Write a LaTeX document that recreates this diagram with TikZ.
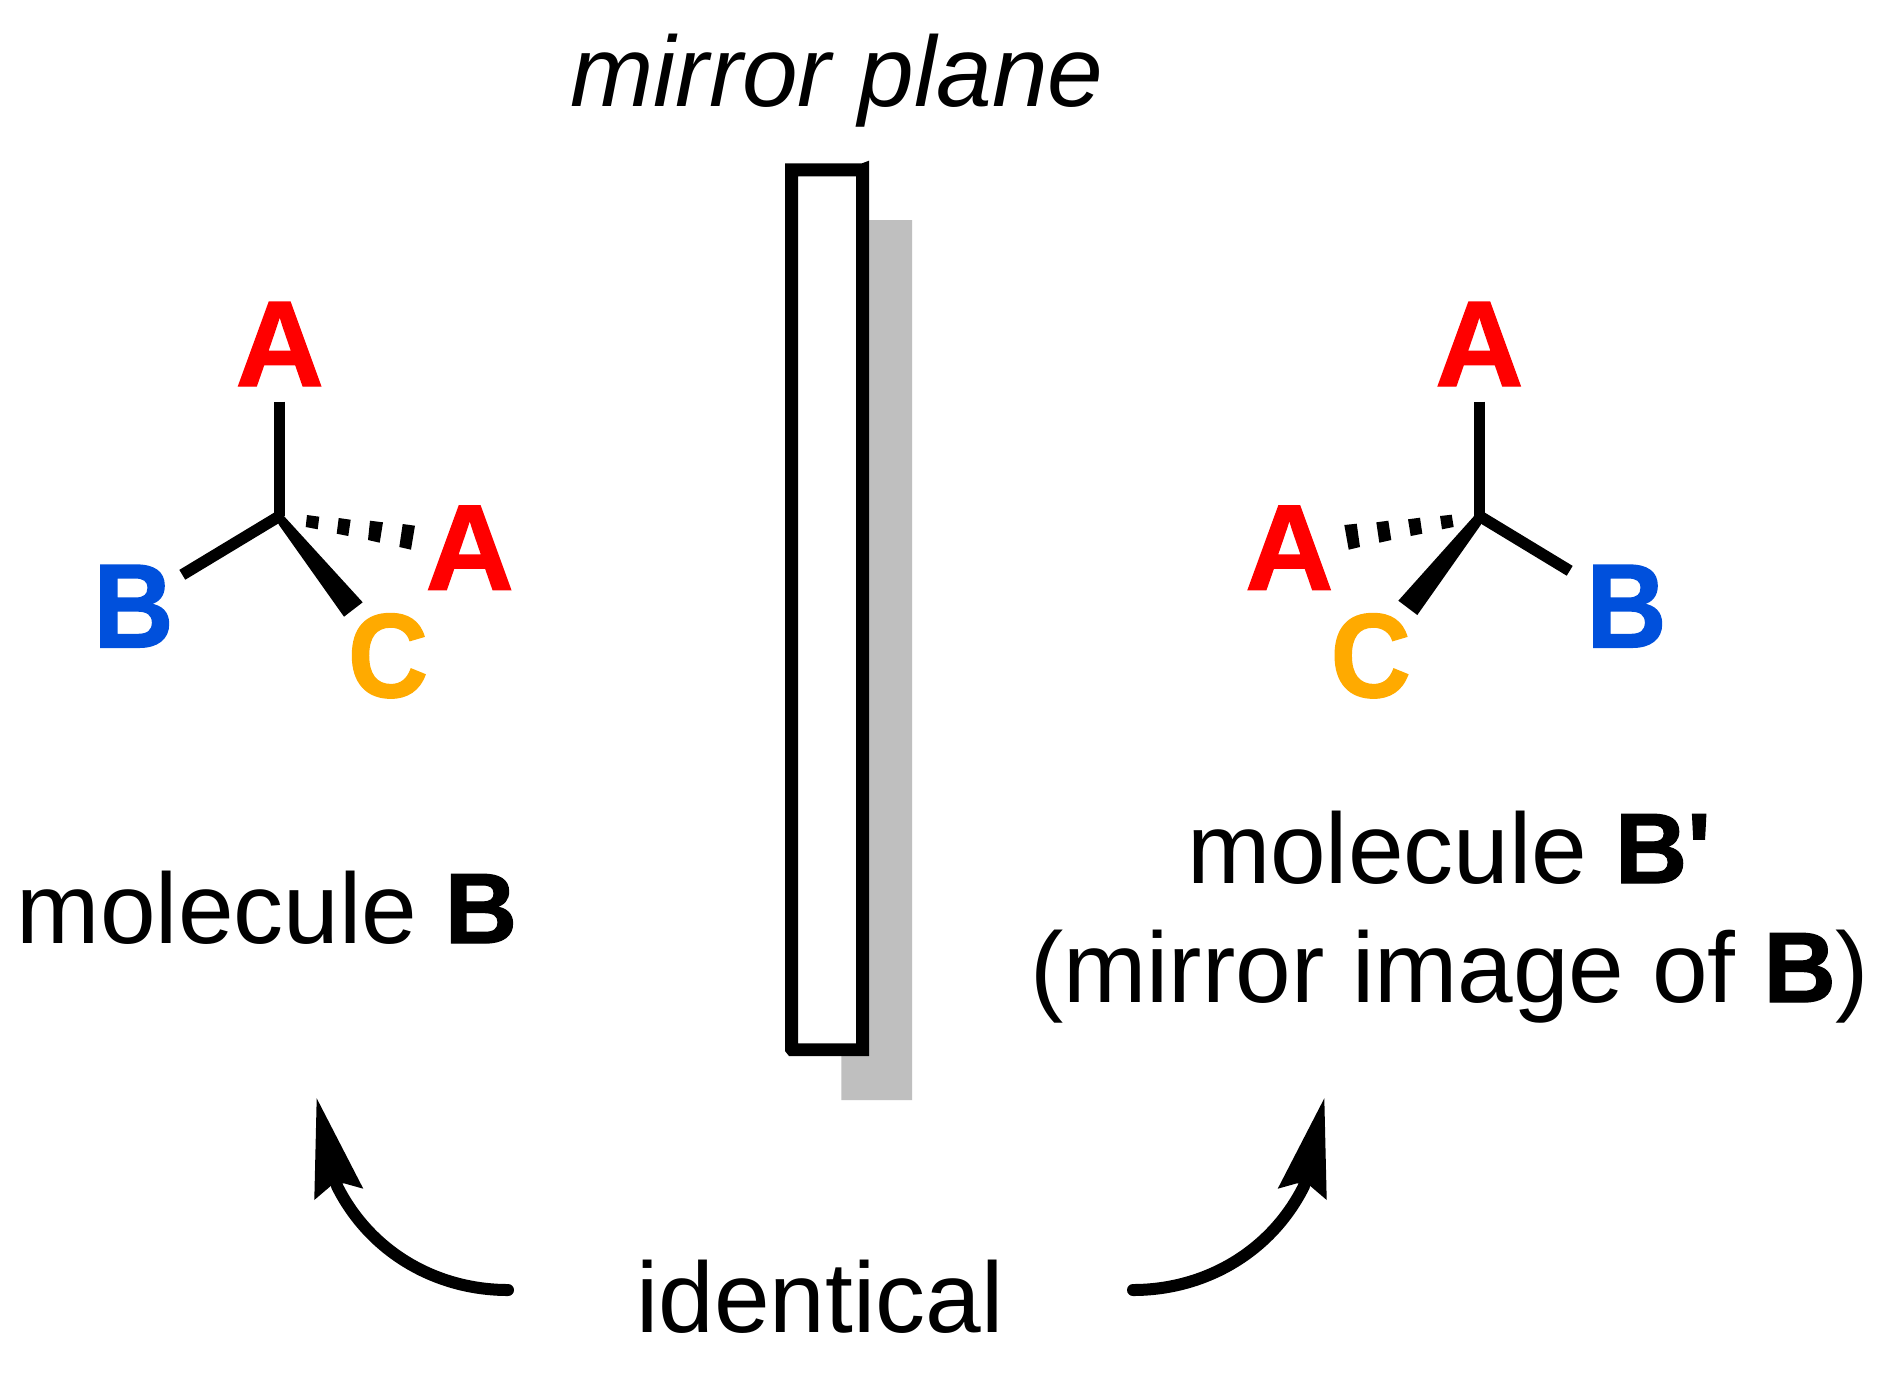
\documentclass[tikz,border=0pt]{standalone}
\usepackage{fontspec}
\setmainfont{Liberation Sans}[BoldFeatures={FakeBold=1.2}]
\definecolor{cA}{RGB}{255,0,0}
\definecolor{cB}{RGB}{0,80,220}
\definecolor{cC}{RGB}{255,170,0}
\tikzset{x=1pt,y=-1pt,
 lab/.style={inner sep=0pt,anchor=base,font=\fontsize{100}{100}\selectfont},
 atom/.style={inner sep=0pt,anchor=base,font=\fontsize{122}{122}\selectfont\bfseries},
 narrowatom/.style={atom,xscale=.91,yscale=.98},
 bond/.style={line width=11.5pt},
 curved/.style={line width=12pt,line cap=round}}
\begin{document}
\begin{tikzpicture}
\useasboundingbox (0,0) rectangle (1884,1374);
\fill[white] (0,0) rectangle (1884,1374);
\node[lab,font=\fontsize{100}{100}\selectfont\itshape] (title) at (837,106) {mirror plane};
% mirror: shadow then frame
\fill[black!25] (869,220) -- (912,220) -- (912,1100) -- (841.3,1100) -- (841.3,1056) -- (869,1056) -- cycle;
\fill[white] (798,176.3) rectangle (856,1043.3);
\fill[even odd rule] (785,163.3) -- (862,163.3) -- (869,160.7) -- (869,1056) -- (789,1056) -- (785,1051) -- cycle
  (798,176.3) rectangle (856,1043.3);
% left molecule
\node[atom,text=cA] (a1) at (279.7,386) {A};
\node[narrowatom,text=cB] (b1) at (133.5,647.3) {B};
\node[atom,text=cA] (a2) at (469.7,589.7) {A};
\node[narrowatom,text=cC] (c1) at (388,697) {C};
\coordinate (o1) at (279.7,516);
\coordinate (t1) at (279.7,401.7);
\coordinate (e1) at (182.3,574.8);
\draw[bond] (t1) -- (o1);
\draw[bond,line cap=butt] (e1) -- (o1);
\fill (275,516) -- (283,515) -- (362.7,602.3) -- (344,616.7) -- (279,525) -- cycle;
\fill (307,515) -- (319.3,516.7) -- (317.7,529.3) -- (305.7,527) -- cycle;
\fill (338.7,518) -- (350.7,519.7) -- (348.3,536) -- (336.7,533.7) -- cycle;
\fill (370,520.7) -- (383,522.3) -- (379.7,542.7) -- (368,540) -- cycle;
\fill (402.7,524) -- (415,525.7) -- (411,549.7) -- (399.3,547) -- cycle;
% right molecule
\node[atom,text=cA] (a3) at (1479.3,386) {A};
\node[narrowatom,text=cB] (b2) at (1626.5,647.3) {B};
\node[atom,text=cA] (a4) at (1289.3,589.7) {A};
\node[narrowatom,text=cC] (c2) at (1370.7,697) {C};
\coordinate (o2) at (1479.3,516);
\coordinate (t2) at (1479.3,401.7);
\coordinate (e2) at (1569.7,570.8);
\draw[bond] (t2) -- (o2);
\draw[bond] (e2) -- (o2);
\fill (1484,516) -- (1475,515) -- (1398.3,600.7) -- (1417.3,615) -- (1480.7,525) -- cycle;
\fill (1440,516) -- (1451.7,514.7) -- (1453.7,527) -- (1442,529.3) -- cycle;
\fill (1408,519.3) -- (1420,517.7) -- (1422.3,533.7) -- (1410.7,536) -- cycle;
\fill (1376.3,522.3) -- (1388.3,520.7) -- (1391.3,540) -- (1379.3,542.7) -- cycle;
\fill (1344.3,525) -- (1356.7,523.7) -- (1360,547) -- (1348.7,549.7) -- cycle;
% labels
\node[lab] (mb) at (267,943) {molecule \textbf{B}};
\node[lab] (mbp) at (1449,883) {molecule \textbf{B\textquotesingle}};
\node[lab] (mi) at (1449.6,1002) {(mirror image of \textbf{B})};
\node[lab] (id) at (820,1332) {identical};
% arrows
\coordinate (s1) at (508,1290);
\coordinate (h1) at (337,1186);
\coordinate (s2) at (1133,1290);
\coordinate (h2) at (1304,1186);
\draw[curved] (s1) .. controls (436,1290) and (370,1252) .. (h1);
\fill (316.7,1098.3) -- (363.3,1188.7) -- (344,1183.3) -- (330.7,1186) -- (314.3,1200) -- cycle;
\draw[curved] (s2) .. controls (1205,1290) and (1271,1252) .. (h2);
\fill (1324.3,1098.3) -- (1277.7,1188.7) -- (1297,1183.3) -- (1310.3,1186) -- (1326.7,1200) -- cycle;
\end{tikzpicture}
\end{document}
